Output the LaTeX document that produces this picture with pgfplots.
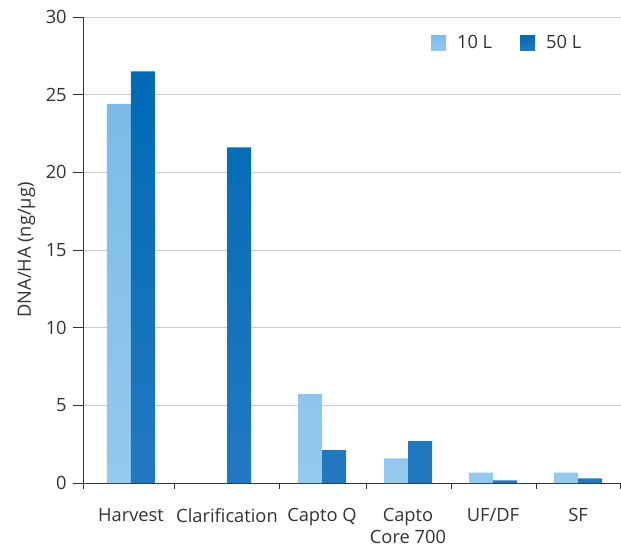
\documentclass[border=0pt]{standalone}
\usepackage{fontspec}
\setmainfont{Open Sans}
\usepackage{pgfplots}
\pgfplotsset{compat=1.18}
\definecolor{txt}{HTML}{333333}
\definecolor{lightA}{HTML}{7ABCE7}
\definecolor{lightB}{HTML}{95C9EE}
\definecolor{darkA}{HTML}{006AB5}
\definecolor{darkB}{HTML}{2279C1}
\definecolor{gridc}{HTML}{CCCCCC}
\begin{document}
\fontsize{18.3}{21.5}\selectfont
\begin{tikzpicture}
\begin{axis}[
    scale only axis,
    width=538pt, height=466pt,
    ybar=0pt,
    bar width=24,
    xmin=0, xmax=538,
    ymin=0, ymax=30,
    ytick={0,5,...,30},
    xtick={48,144,239,325,410,495},
    xticklabels={Harvest,Clarification,Capto Q,{Capto\\Core 700},UF/DF,SF},
    x tick label style={align=center, anchor=north, yshift=-9pt, text=txt},
    y tick label style={text=txt},
    xtick style={draw=none},
    extra x ticks={0,91,196,283,368,453,537},
    extra x tick labels={},
    extra x tick style={xtick style={draw=txt, line width=0.8pt}, major tick length=6pt, tick align=outside},
    ytick style={draw=txt, line width=0.8pt},
    major tick length=10pt,
    tick align=outside,
    axis x line*=bottom,
    axis y line*=left,
    axis line style={draw=txt, line width=0.8pt},
    ymajorgrids,
    grid style={gridc, line width=0.8pt},
    ylabel={DNA/HA (ng/µg)},
    ylabel style={text=txt, yshift=-2pt},
    /pgf/number format/assume math mode=true,
    legend columns=2,
    legend style={draw=none, fill=none, at={(0.641,0.944)}, anchor=west, text=txt,
        /tikz/every even column/.append style={column sep=26pt}},
    legend image code/.code={\fill[#1] (0pt,-7.5pt) rectangle (15pt,7.5pt);
        \path (0pt,0pt) -- (24pt,0pt);},
]
\addplot[draw=none, top color=lightA, bottom color=lightB] coordinates {
    (48,24.4) (239,5.73) (325,1.59) (410,0.66) (495,0.66)
};
\addplot[draw=none, top color=darkA, middle color=darkA, bottom color=darkB] coordinates {
    (48,26.5) (144,21.6) (239,2.12) (325,2.70) (410,0.17) (495,0.30)
};
\legend{10 L,50 L}
\end{axis}
\pgfresetboundingbox
\useasboundingbox (-83pt,-71pt) rectangle (538pt,483pt);
\end{tikzpicture}
\end{document}
